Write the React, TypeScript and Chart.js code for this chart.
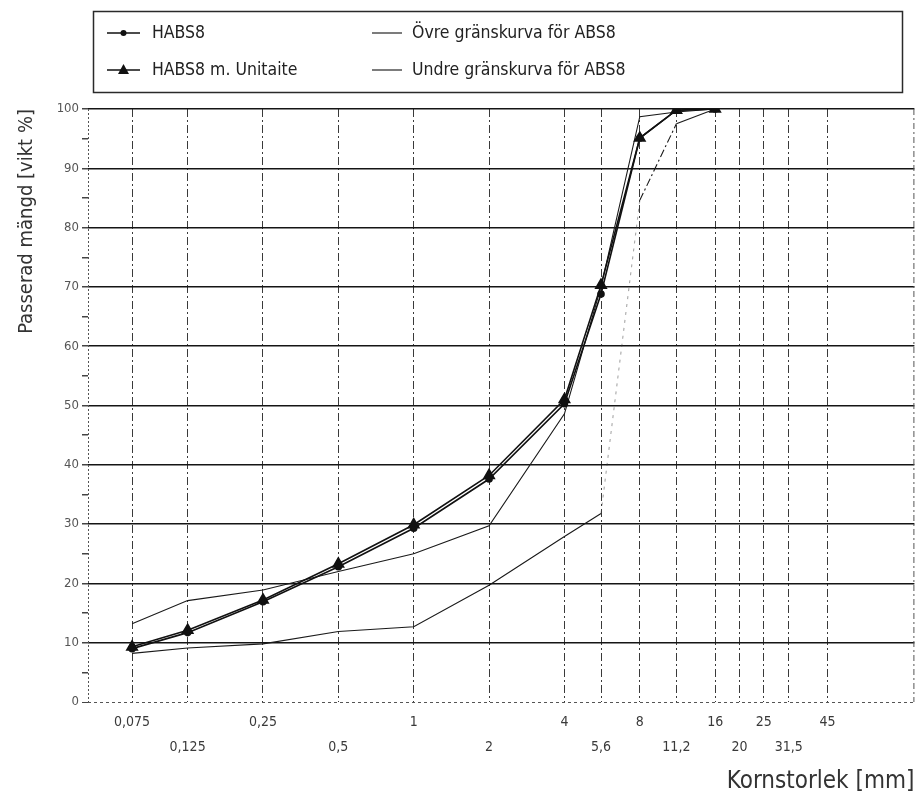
import React, { useEffect, useRef } from 'react';
import { Chart, registerables } from 'chart.js';

Chart.register(...registerables);

// ---- data ----
const sieveSizes = [0.075, 0.125, 0.25, 0.5, 1, 2, 4, 5.6, 8, 11.2, 16];
const habs8 = [9.0, 11.7, 16.9, 22.8, 29.3, 37.6, 50.3, 68.8, 95.1, 99.8, 100];
const habs8Unitaite = [9.3, 12.1, 17.2, 23.3, 29.9, 38.2, 51.0, 70.3, 95.1, 99.8, 100];
const upperLimit = [13.2, 17.1, 18.9, 22.0, 25.0, 29.7, 48.6, 70.0, 98.7, 99.5, 100];
const lowerLimit = [8.2, 9.1, 9.8, 11.9, 12.7, 19.7, 27.9, 31.8, 84.6, 97.5, 100];

const xTickValues = [0.075, 0.125, 0.25, 0.5, 1, 2, 4, 5.6, 8, 11.2, 16, 20, 25, 31.5, 45];
const xTickLabels = ['0,075', '0,125', '0,25', '0,5', '1', '2', '4', '5,6', '8', '11,2', '16', '20', '25', '31,5', '45'];

const seriesLabels = ['HABS8', 'HABS8 m. Unitaite', 'Övre gränskurva för ABS8', 'Undre gränskurva för ABS8'];

const FONT = '"Liberation Sans Narrow", "DejaVu Sans Condensed", "Roboto Condensed", "Liberation Sans", sans-serif';

const toPoints = (ys: number[]) => sieveSizes.map((x, i) => ({ x, y: ys[i] }));

const boxLegend = {
  id: 'boxLegend',
  afterDraw(chart: any) {
    const ctx = chart.ctx;
    ctx.save();
    ctx.strokeStyle = '#2a2a2a';
    ctx.lineWidth = 1.5;
    ctx.strokeRect(93.5, 11.5, 809, 81);
    const cols = [
      { sx: 107, ex: 140, tx: 152 },
      { sx: 372, ex: 402, tx: 412 },
    ];
    const rows = [33, 70];
    chart.data.datasets.forEach((ds: any, i: number) => {
      const c = cols[Math.floor(i / 2)];
      const y = rows[i % 2];
      ctx.strokeStyle = '#111';
      ctx.lineWidth = ds.borderWidth;
      ctx.setLineDash([]);
      ctx.beginPath();
      ctx.moveTo(c.sx, y);
      ctx.lineTo(c.ex, y);
      ctx.stroke();
      const mx = (c.sx + c.ex) / 2;
      ctx.fillStyle = '#111';
      if (ds.pointStyle === 'circle' && ds.pointRadius > 0) {
        ctx.beginPath();
        ctx.arc(mx, y, 3, 0, Math.PI * 2);
        ctx.fill();
      } else if (ds.pointStyle === 'triangle') {
        ctx.beginPath();
        ctx.moveTo(mx, y - 6);
        ctx.lineTo(mx + 5.5, y + 4);
        ctx.lineTo(mx - 5.5, y + 4);
        ctx.closePath();
        ctx.fill();
      }
      ctx.fillStyle = '#222';
      ctx.font = `17.5px ${FONT}`;
      ctx.textBaseline = 'middle';
      ctx.textAlign = 'left';
      ctx.fillText(ds.label, c.tx, y);
    });
    ctx.restore();
  },
};

const frameLines = {
  id: 'frameLines',
  beforeDatasetsDraw(chart: any) {
    const { ctx, chartArea } = chart;
    ctx.save();
    ctx.lineWidth = 1;
    ctx.strokeStyle = '#555';
    ctx.setLineDash([2, 2]);
    ctx.beginPath();
    ctx.moveTo(chartArea.left + 0.5, chartArea.top);
    ctx.lineTo(chartArea.left + 0.5, chartArea.bottom);
    ctx.stroke();
    ctx.setLineDash([6, 3, 2, 3]);
    ctx.beginPath();
    ctx.moveTo(chartArea.right - 0.5, chartArea.top);
    ctx.lineTo(chartArea.right - 0.5, chartArea.bottom);
    ctx.stroke();
    ctx.restore();
  },
};

export default function App() {
  const ref = useRef<HTMLCanvasElement | null>(null);

  useEffect(() => {
    if (!ref.current) return;
    const chart = new Chart(ref.current, {
      type: 'line',
      data: {
        datasets: [
          {
            label: seriesLabels[0],
            data: toPoints(habs8),
            borderColor: '#111',
            backgroundColor: '#111',
            borderWidth: 1.6,
            pointStyle: 'circle',
            pointRadius: 3,
            pointBackgroundColor: '#111',
            pointBorderColor: '#111',
            tension: 0,
          },
          {
            label: seriesLabels[1],
            data: toPoints(habs8Unitaite),
            borderColor: '#111',
            backgroundColor: '#111',
            borderWidth: 1.6,
            pointStyle: 'triangle',
            pointRadius: 6,
            pointBackgroundColor: '#111',
            pointBorderColor: '#111',
            tension: 0,
          },
          {
            label: seriesLabels[2],
            data: toPoints(upperLimit),
            borderColor: '#1a1a1a',
            borderWidth: 1.1,
            pointRadius: 0,
            pointStyle: 'line',
            tension: 0,
          },
          {
            label: seriesLabels[3],
            data: toPoints(lowerLimit),
            borderColor: '#1a1a1a',
            borderWidth: 1.1,
            pointRadius: 0,
            pointStyle: 'line',
            tension: 0,
            segment: {
              borderColor: (c: any) => (c.p0DataIndex === 7 ? 'rgba(60,60,60,0.45)' : undefined),
              borderDash: (c: any) => (c.p0DataIndex === 7 ? [3, 5] : c.p0DataIndex === 8 ? [8, 3, 2, 3] : undefined),
            },
          },
        ],
      },
      options: {
        animation: false,
        responsive: false,
        devicePixelRatio: 1,
        events: [],
        layout: { padding: { top: 109, right: 2, left: 0, bottom: 0 } },
        plugins: {
          legend: { display: false },
          tooltip: { enabled: false },
        },
        scales: {
          x: {
            type: 'logarithmic',
            min: 0.05,
            max: 100,
            afterBuildTicks: (scale: any) => {
              scale.ticks = xTickValues.map((v) => ({ value: v }));
            },
            afterFit: (scale: any) => {
              scale.height = 97;
            },
            ticks: {
              autoSkip: false,
              maxRotation: 0,
              minRotation: 0,
              padding: 8,
              color: '#3a3a3a',
              font: { size: 14, family: FONT, lineHeight: 25 / 14 },
              callback: (_v: any, i: number) => (i % 2 === 0 ? xTickLabels[i] : ['', xTickLabels[i]]),
            },
            grid: {
              color: '#3a3a3a',
              lineWidth: 1,
              drawTicks: false,
            },
            border: { display: false, dash: [8, 3, 2, 3] },
            title: {
              display: true,
              text: 'Kornstorlek [mm]',
              align: 'end',
              color: '#333',
              font: { size: 24, family: FONT },
              padding: { top: 0, bottom: 3 },
            },
          },
          y: {
            type: 'linear',
            min: 0,
            max: 100,
            afterFit: (scale: any) => {
              scale.width = 88;
            },
            ticks: {
              stepSize: 5,
              autoSkip: false,
              padding: 3,
              color: '#555',
              font: { size: 13, family: FONT },
              callback: (v: any) => (Number(v) % 10 === 0 ? String(v) : ''),
            },
            grid: {
              color: (c: any) => {
                const v = c.tick ? c.tick.value : 1;
                if (v % 10 !== 0) return 'rgba(0,0,0,0)';
                return v === 0 ? '#555' : '#151515';
              },
              lineWidth: (c: any) => (c.tick && c.tick.value === 0 ? 1 : 1.5),
              tickColor: '#444',
              tickLength: 6,
              drawTicks: true,
            },
            border: {
              display: false,
              dash: (c: any) => (c.tick && c.tick.value === 0 ? [3, 3] : []),
            },
            title: {
              display: true,
              text: 'Passerad mängd [vikt %]',
              align: 'end',
              color: '#333',
              font: { size: 20, family: FONT },
              padding: { top: 15, bottom: 0 },
            },
          },
        },
      },
      plugins: [frameLines, boxLegend],
    } as any);
    return () => chart.destroy();
  }, []);

  return (
    <div style={{ position: 'absolute', left: 0, top: 0, width: 922, height: 799, background: '#fff' }}>
      <canvas ref={ref} width={922} height={799} style={{ display: 'block', width: 922, height: 799 }} />
    </div>
  );
}
